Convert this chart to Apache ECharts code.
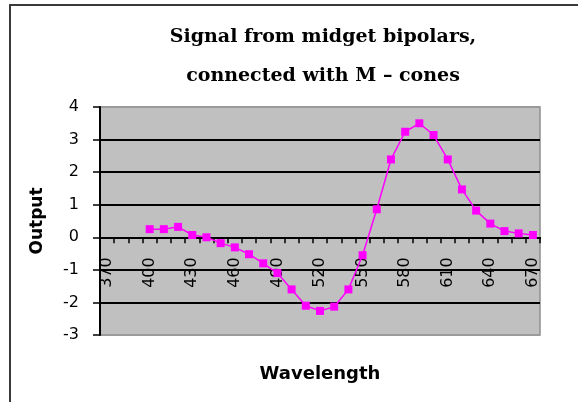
<!DOCTYPE html>
<html>
<head>
<meta charset="utf-8">
<script src="https://cdn.jsdelivr.net/npm/echarts@6/dist/echarts.min.js"></script>
<style>
  html, body { margin: 0; padding: 0; background: #fff; }
  #chart { width: 578px; height: 402px; }
</style>
</head>
<body>
<div id="chart"></div>
<script>
// Wavelength categories (nm) and bipolar output signal
const wavelengths = ['370','380','390','400','410','420','430','440','450','460',
  '470','480','490','500','510','520','530','540','550','560',
  '570','580','590','600','610','620','630','640','650','660','670'];
const output = [null, null, null, 0.25, 0.25, 0.32, 0.07, 0.0, -0.18, -0.31,
  -0.52, -0.8, -1.1, -1.6, -2.1, -2.26, -2.13, -1.6, -0.55, 0.86,
  2.39, 3.24, 3.5, 3.14, 2.39, 1.47, 0.82, 0.42, 0.19, 0.12, 0.07];
const yTicks = [-3, -2, -1, 0, 1, 2, 3, 4];

// plot box
const gridTop = 107, gridBottom = 67, chartHeight = 402;
const plotBottomY = chartHeight - gridBottom;
const plotHeight = plotBottomY - gridTop;
// shift the category axis up so it crosses the value axis at zero
const yMin = yTicks[0], yMax = yTicks[yTicks.length - 1];
const zeroOffset = -plotHeight * (0 - yMin) / (yMax - yMin);

const chart = echarts.init(document.getElementById('chart'), null, { renderer: 'canvas' });

// gridlines black inside, grey where they meet the plot frame
const gridColors = yTicks.map((v, i) => (i === 0 || i === yTicks.length - 1) ? '#9a9a9a' : '#000');

chart.setOption({
  backgroundColor: '#fff',
  animation: false,
  title: {
    text: 'Signal from midget bipolars,\nconnected with M \u2013 cones',
    left: 318,
    top: 13,
    textAlign: 'center',
    textStyle: {
      fontFamily: 'DejaVu Serif',
      fontWeight: 'bold',
      fontSize: 19,
      lineHeight: 39,
      color: '#000'
    }
  },
  graphic: [{
    type: 'polyline',
    z: -10,
    shape: { points: [[10, 430], [10, 5], [620, 5]] },
    style: { fill: null, stroke: '#3a3a3a', lineWidth: 2 }
  }],
  grid: {
    left: 100, right: 38, top: gridTop, bottom: gridBottom,
    outerBoundsMode: 'none',
    containLabel: false,
    show: true,
    backgroundColor: '#c0c0c0',
    borderColor: '#8f8f8f',
    borderWidth: 1.5
  },
  xAxis: {
    type: 'category',
    data: wavelengths,
    boundaryGap: true,
    offset: zeroOffset,
    name: 'Wavelength',
    nameLocation: 'middle',
    nameGap: 128,
    nameTextStyle: { fontFamily: 'DejaVu Sans', fontWeight: 'bold', fontSize: 18, color: '#000' },
    axisLine: { onZero: false, lineStyle: { color: '#000', width: 2 } },
    axisTick: { show: true, interval: 0, length: 6, lineStyle: { color: '#000', width: 1.5 } },
    axisLabel: {
      interval: 2,
      rotate: 90,
      margin: 20,
      fontFamily: 'DejaVu Sans',
      fontSize: 16,
      color: '#000'
    },
    splitLine: { show: false }
  },
  yAxis: {
    type: 'value',
    min: yMin,
    max: yMax,
    interval: 1,
    name: 'Output',
    nameLocation: 'middle',
    nameRotate: 90,
    nameGap: 54,
    nameTextStyle: { fontFamily: 'DejaVu Sans', fontWeight: 'bold', fontSize: 17, color: '#000' },
    axisLine: { show: true, lineStyle: { color: '#000', width: 2 } },
    axisTick: { show: true, length: 7, lineStyle: { color: '#000', width: 1.5 } },
    axisLabel: {
      margin: 21,
      fontFamily: 'DejaVu Sans',
      fontSize: 16,
      color: '#000'
    },
    splitLine: { show: true, lineStyle: { color: gridColors, width: 2 } }
  },
  series: [{
    type: 'line',
    data: output,
    symbol: 'rect',
    symbolSize: 8,
    showAllSymbol: true,
    lineStyle: { color: '#ff00ff', width: 1.5 },
    itemStyle: { color: '#ff00ff' },
    z: 5
  }]
});
</script>
</body>
</html>
